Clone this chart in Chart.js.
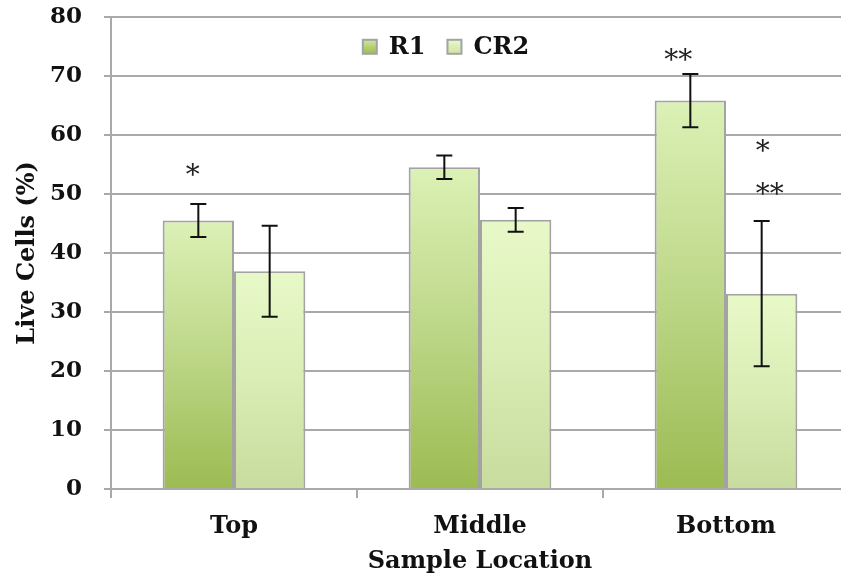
<!DOCTYPE html>
<html>
<head>
<meta charset="utf-8">
<script src="https://cdn.jsdelivr.net/npm/chart.js@4.4.1/dist/chart.umd.min.js"></script>
<style>
  html, body { margin: 0; padding: 0; background: #ffffff; overflow: hidden; }
  #wrap { width: 841px; height: 579px; overflow: hidden; position: relative; }
  #box { width: 860px; height: 598px; position: absolute; left: 0; top: -19px; }
</style>
</head>
<body>
<div id="wrap"><div id="box"><canvas id="chart"></canvas></div></div>
<script>
// Sample locations and live-cell percentages (mean ± error)
const categories = ['Top', 'Middle', 'Bottom'];
const seriesNames = ['R1', 'CR2'];
const r1Values = [45.5, 54.5, 65.8];
const r1Errors = [2.8, 2.0, 4.5];
const cr2Values = [36.9, 45.6, 33.1];
const cr2Errors = [7.7, 2.0, 12.3];
// Significance markers per bar
const r1Marks = [['*'], [], ['**']];
const cr2Marks = [[], [], ['*', '**']];
const yTicks = [0, 10, 20, 30, 40, 50, 60, 70, 80];

const SERIF = '"DejaVu Serif", "Liberation Serif", serif';
const TEXT = '#111111';

function barGradient(top, mid, bottom) {
  return function (ctx) {
    const chart = ctx.chart;
    if (ctx.type !== 'data' || !chart.chartArea) return mid;
    const ys = chart.scales.y;
    const yTop = ys.getPixelForValue(ctx.raw);
    const yBot = ys.getPixelForValue(0);
    const g = chart.ctx.createLinearGradient(0, yTop, 0, yBot);
    g.addColorStop(0, top);
    g.addColorStop(0.5, mid);
    g.addColorStop(1, bottom);
    return g;
  };
}

// Error bars, significance stars and the in-plot legend
const annotate = {
  id: 'annotate',
  afterDatasetsDraw(chart, args, opts) {
    const ctx = chart.ctx;
    const ys = chart.scales.y;
    const errs = [r1Errors, cr2Errors];
    const marks = [r1Marks, cr2Marks];
    ctx.save();
    chart.data.datasets.forEach((ds, di) => {
      const meta = chart.getDatasetMeta(di);
      meta.data.forEach((bar, i) => {
        const v = ds.data[i], e = errs[di][i];
        const yHi = ys.getPixelForValue(v + e);
        const yLo = ys.getPixelForValue(v - e);
        const x = bar.x;
        ctx.strokeStyle = TEXT;
        ctx.lineWidth = 2;
        ctx.beginPath();
        ctx.moveTo(x, yHi); ctx.lineTo(x, yLo);
        ctx.moveTo(x - 8, yHi); ctx.lineTo(x + 8, yHi);
        ctx.moveTo(x - 8, yLo); ctx.lineTo(x + 8, yLo);
        ctx.stroke();

        const m = marks[di][i];
        const place = opts.placement[di][i];
        ctx.fillStyle = '#222222';
        ctx.font = '28px ' + SERIF;
        ctx.textBaseline = 'middle';
        m.forEach((s, k) => {
          const p = place[k];
          ctx.textAlign = p.align;
          ctx.fillText(s, x + p.dx, yHi + p.dy);
        });
      });
    });

    // legend centred near the top of the plot
    const fills = opts.legendFills;
    const area = chart.chartArea;
    ctx.font = 'bold 24px ' + SERIF;
    const box = 14, gap = 12, spacing = 22;
    const widths = seriesNames.map(n => box + gap + ctx.measureText(n).width);
    const total = widths.reduce((a, b) => a + b, 0) + spacing * (seriesNames.length - 1);
    let lx = opts.legendCenter - total / 2;
    const ly = area.top + opts.legendOffset;
    seriesNames.forEach((n, i) => {
      const g = ctx.createLinearGradient(0, ly - box / 2, 0, ly + box / 2);
      g.addColorStop(0, fills[i][0]);
      g.addColorStop(1, fills[i][1]);
      ctx.fillStyle = g;
      ctx.fillRect(lx, ly - box / 2, box, box);
      ctx.strokeStyle = '#a3a3a3';
      ctx.lineWidth = 2;
      ctx.strokeRect(lx, ly - box / 2, box, box);
      ctx.fillStyle = TEXT;
      ctx.textAlign = 'left';
      ctx.textBaseline = 'middle';
      ctx.fillText(n, lx + box + gap, ly + 1);
      lx += widths[i] + spacing;
    });
    ctx.restore();
  }
};

const gridColor = '#a9a9a9';

new Chart(document.getElementById('chart'), {
  type: 'bar',
  data: {
    labels: categories,
    datasets: [
      {
        label: seriesNames[0],
        data: r1Values,
        backgroundColor: barGradient('#dcf1b6', '#bdd788', '#9cbb52'),
        borderColor: '#a3a3a3',
        borderWidth: 2,
        borderSkipped: 'bottom',
        categoryPercentage: 0.58,
        barPercentage: 1.0
      },
      {
        label: seriesNames[1],
        data: cr2Values,
        backgroundColor: barGradient('#e8f9c8', '#d9edb4', '#c8dc9f'),
        borderColor: '#a3a3a3',
        borderWidth: 2,
        borderSkipped: 'bottom',
        categoryPercentage: 0.58,
        barPercentage: 1.0
      }
    ]
  },
  options: {
    responsive: true,
    maintainAspectRatio: false,
    animation: false,
    layout: { padding: { top: 0, right: 11, left: 0, bottom: 0 } },
    plugins: {
      tooltip: { enabled: false },
      legend: { display: false },
      annotate: {
        legendCenter: 446,
        legendOffset: 30,
        legendFills: [['#cfe79c', '#9cbb52'], ['#e8f9c8', '#cfe3a6']],
        placement: [
          [[{ dx: -5.5, dy: -27, align: 'center' }], [], [{ dx: -12, dy: -12, align: 'center' }]],
          [[], [], [{ dx: -6, dy: -68, align: 'left' }, { dx: -6, dy: -25, align: 'left' }]]
        ]
      }
    },
    scales: {
      x: {
        grid: {
          drawOnChartArea: false,
          drawTicks: true,
          tickLength: 9,
          color: gridColor,
          lineWidth: 2
        },
        border: { color: gridColor, width: 2 },
        ticks: {
          color: TEXT,
          padding: 14,
          font: { family: SERIF, size: 24, weight: 'bold' }
        },
        title: {
          display: true,
          text: 'Sample Location',
          color: TEXT,
          padding: { top: 0, bottom: 3 },
          font: { family: SERIF, size: 24, weight: 'bold' }
        },
        afterFit(scale) { scale.height = 90; }
      },
      y: {
        min: 0,
        max: 80,
        afterBuildTicks(scale) { scale.ticks = yTicks.map(v => ({ value: v })); },
        grid: {
          color: gridColor,
          lineWidth: 2,
          drawTicks: true,
          tickLength: 7
        },
        border: { color: gridColor, width: 2 },
        ticks: {
          color: TEXT,
          padding: 22,
          font: { family: SERIF, size: 23, weight: 'bold' }
        },
        title: {
          display: true,
          text: 'Live Cells (%)',
          color: TEXT,
          padding: { top: 13, bottom: 0 },
          font: { family: SERIF, size: 24, weight: 'bold' }
        },
        afterFit(scale) { scale.width = 111; }
      }
    }
  },
  plugins: [annotate]
});
</script>
</body>
</html>
